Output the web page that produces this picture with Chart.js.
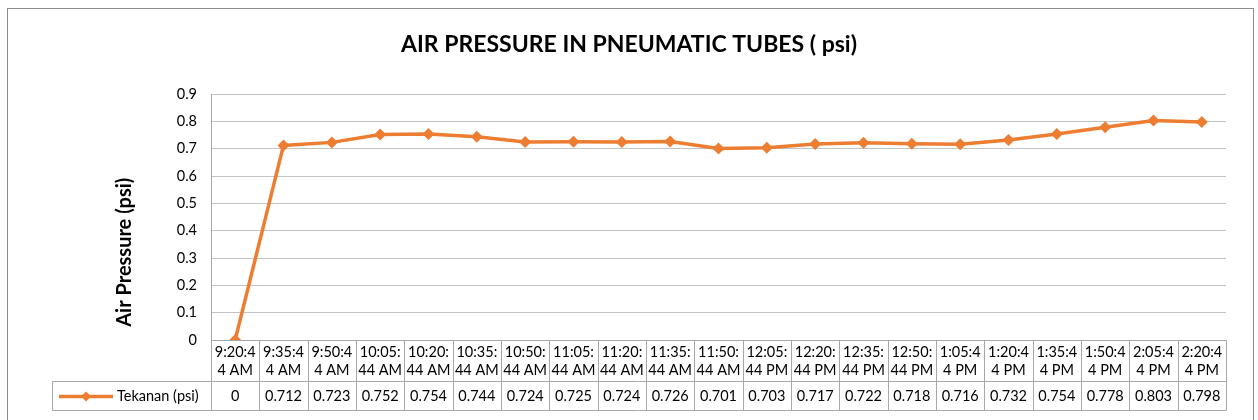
<!DOCTYPE html>
<html>
<head>
<meta charset="utf-8">
<style>
  html, body { margin: 0; padding: 0; background: #fff; }
  #wrap { position: relative; width: 1258px; height: 420px; }
</style>
<script src="https://cdn.jsdelivr.net/npm/chart.js@4.4.6/dist/chart.umd.min.js"></script>
</head>
<body>
<div id="wrap"><canvas id="chart-pressure"></canvas></div>
<script>
// Air pressure readings, every 15 minutes.
const TITLE = "AIR PRESSURE IN PNEUMATIC TUBES ( psi)";
const Y_TITLE = "Air Pressure (psi)";
const SERIES_NAME = "Tekanan (psi)";

const times = [
  "9:20:44 AM", "9:35:44 AM", "9:50:44 AM", "10:05:44 AM", "10:20:44 AM", "10:35:44 AM",
  "10:50:44 AM", "11:05:44 AM", "11:20:44 AM", "11:35:44 AM", "11:50:44 AM", "12:05:44 PM",
  "12:20:44 PM", "12:35:44 PM", "12:50:44 PM", "1:05:44 PM", "1:20:44 PM", "1:35:44 PM",
  "1:50:44 PM", "2:05:44 PM", "2:20:44 PM",
];
const pressure = [
  0, 0.712, 0.723, 0.752, 0.754, 0.744, 0.724, 0.725, 0.724, 0.726, 0.701,
  0.703, 0.717, 0.722, 0.718, 0.716, 0.732, 0.754, 0.778, 0.803, 0.798,
];
const Y_MIN = 0, Y_MAX = 0.9, Y_STEP = 0.1;

const ORANGE = "#ed7d31";
const FONT = "Lato, 'Open Sans', sans-serif";
const GRID = "#c3c3c3";
const TABLE_LINE = "#a8a8a8";
const TEXT_SIZE = 14.5;

// Excel wraps the time labels after 6 characters.
const splitLabel = s => [s.slice(0, 6), s.slice(6)];

// ============ frame, title, data table ============
const dataTable = {
  id: "dataTable",
  beforeDraw(chart) {
    const { ctx, width, height } = chart;
    ctx.save();
    ctx.strokeStyle = "#8c8c8c";
    ctx.lineWidth = 1;
    ctx.strokeRect(7.5, 8.5, width - 12, height + 10);
    // chart title, centred on the whole frame
    ctx.fillStyle = "#000";
    ctx.font = `bold 23px ${FONT}`;
    ctx.textAlign = "center";
    ctx.textBaseline = "middle";
    ctx.fillText(TITLE, width / 2, 45);
    ctx.restore();
  },
  afterDraw(chart) {
    const { ctx, chartArea: a, scales: { x } } = chart;
    const n = times.length;
    const step = x.width / n;
    const top = Math.round(a.bottom) + 0.5;
    const mid = top + 41;
    const bot = top + 70;
    const legendLeft = 52.5;
    const px = v => Math.round(v) + 0.5;

    ctx.save();
    ctx.strokeStyle = TABLE_LINE;
    ctx.lineWidth = 1;
    ctx.beginPath();
    // horizontal rules
    ctx.moveTo(px(a.left), top); ctx.lineTo(px(a.right), top);
    ctx.moveTo(legendLeft, mid); ctx.lineTo(px(a.right), mid);
    ctx.moveTo(legendLeft, bot); ctx.lineTo(px(a.right), bot);
    // column rules
    for (let i = 0; i <= n; i++) {
      const bx = px(x.getPixelForValue(i) - step / 2);
      ctx.moveTo(bx, i === 0 ? px(a.top) : top);
      ctx.lineTo(bx, bot);
    }
    ctx.moveTo(legendLeft, mid); ctx.lineTo(legendLeft, bot);
    ctx.stroke();

    // header + value cells
    ctx.fillStyle = "#000";
    ctx.font = `${TEXT_SIZE}px ${FONT}`;
    ctx.textAlign = "center";
    ctx.textBaseline = "middle";
    times.forEach((t, i) => {
      const cx = x.getPixelForValue(i);
      const [l1, l2] = splitLabel(t);
      ctx.fillText(l1, cx, top + 12);
      ctx.fillText(l2, cx, top + 30);
      ctx.fillText(String(pressure[i]), cx, mid + 15);
    });

    // legend key
    const ly = mid + 15;
    ctx.strokeStyle = ORANGE;
    ctx.lineWidth = 3.5;
    ctx.beginPath();
    ctx.moveTo(59, ly); ctx.lineTo(113, ly);
    ctx.stroke();
    ctx.fillStyle = ORANGE;
    ctx.beginPath();
    ctx.moveTo(86, ly - 5); ctx.lineTo(91, ly); ctx.lineTo(86, ly + 5); ctx.lineTo(81, ly);
    ctx.closePath();
    ctx.fill();
    ctx.fillStyle = "#000";
    ctx.textAlign = "left";
    ctx.fillText(SERIES_NAME, 117, ly);

    // y-axis title, centred on plot + table like Excel does
    ctx.translate(125, (a.top + bot) / 2);
    ctx.rotate(-Math.PI / 2);
    ctx.textAlign = "center";
    ctx.font = `bold 20px ${FONT}`;
    ctx.fillText(Y_TITLE, 0, 0);
    ctx.restore();
  },
};

new Chart(document.getElementById("chart-pressure"), {
  type: "line",
  data: {
    labels: times,
    datasets: [{
      label: SERIES_NAME,
      data: pressure,
      borderColor: ORANGE,
      backgroundColor: ORANGE,
      borderWidth: 3.5,
      tension: 0,
      pointStyle: "rectRot",
      pointRadius: 6,
      pointHoverRadius: 6,
      pointBorderWidth: 0,
    }],
  },
  options: {
    responsive: true,
    maintainAspectRatio: false,
    animation: false,
    layout: { padding: { left: 0, right: 32, top: 94, bottom: 8 } },
    scales: {
      x: {
        type: "category",
        offset: true,
        ticks: { display: false },
        grid: { display: false },
        border: { display: false },
        afterFit: s => { s.height = 72; },
      },
      y: {
        min: Y_MIN,
        max: Y_MAX,
        ticks: {
          stepSize: Y_STEP,
          padding: 14,
          color: "#000",
          font: { family: FONT, size: TEXT_SIZE },
          callback: v => String(+v.toFixed(1)),
        },
        grid: { color: GRID, drawTicks: false, tickLength: 0 },
        border: { display: true, color: TABLE_LINE },
        afterFit: s => { s.width = 211; },
      },
    },
    plugins: {
      legend: { display: false },
      tooltip: { enabled: false },
      title: { display: false },
    },
  },
  plugins: [dataTable],
});
</script>
</body>
</html>
